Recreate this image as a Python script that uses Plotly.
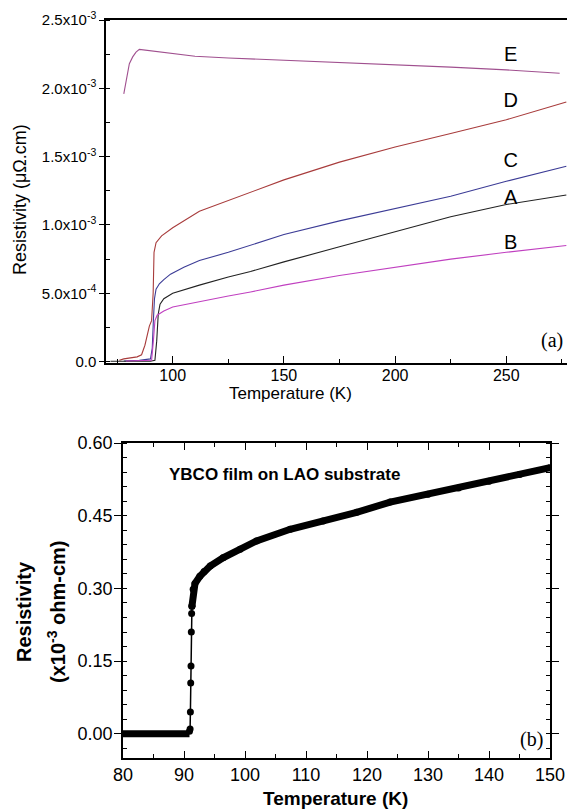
import plotly.graph_objects as go

# ---------------- Panel (a) data ----------------
E_T = [78, 78.8, 79.6, 80.5, 82, 83.5, 85, 90, 100, 110, 125, 150, 175, 200, 225, 250, 274]
E_R = [1.96e-3, 2.04e-3, 2.12e-3, 2.18e-3, 2.23e-3, 2.265e-3, 2.285e-3, 2.275e-3, 2.25e-3, 2.235e-3,
       2.222e-3, 2.205e-3, 2.19e-3, 2.175e-3, 2.155e-3, 2.135e-3, 2.11e-3]

D_T = [76, 78, 84, 86, 87.5, 88.5, 89.5, 90.5, 91.2, 91.6, 92.5, 95, 100, 112, 125, 135, 150, 175, 200, 225, 250, 277]
D_R = [0.01e-3, 0.02e-3, 0.035e-3, 0.05e-3, 0.12e-3, 0.2e-3, 0.26e-3, 0.3e-3, 0.5e-3, 0.80e-3, 0.87e-3,
       0.92e-3, 0.98e-3, 1.10e-3, 1.18e-3, 1.24e-3, 1.33e-3, 1.46e-3, 1.57e-3, 1.67e-3, 1.77e-3, 1.90e-3]

C_T = [78, 85, 90, 90.8, 91.3, 91.8, 92.5, 94, 96, 99, 105, 112, 125, 135, 150, 175, 200, 225, 250, 277]
C_R = [0.005e-3, 0.01e-3, 0.02e-3, 0.1e-3, 0.3e-3, 0.46e-3, 0.53e-3, 0.57e-3, 0.6e-3, 0.64e-3, 0.69e-3,
       0.74e-3, 0.8e-3, 0.85e-3, 0.93e-3, 1.03e-3, 1.12e-3, 1.21e-3, 1.32e-3, 1.43e-3]

A_T = [72, 80, 90, 92, 92.8, 93.5, 94.3, 96, 100, 112, 125, 135, 150, 175, 200, 225, 250, 277]
A_R = [0.003e-3, 0.003e-3, 0.003e-3, 0.01e-3, 0.15e-3, 0.35e-3, 0.42e-3, 0.46e-3, 0.5e-3, 0.56e-3,
       0.62e-3, 0.66e-3, 0.73e-3, 0.84e-3, 0.95e-3, 1.06e-3, 1.15e-3, 1.22e-3]

B_T = [79, 88, 90.5, 91.3, 92, 93, 96, 100, 112, 125, 135, 150, 175, 200, 225, 250, 277]
B_R = [0.005e-3, 0.005e-3, 0.01e-3, 0.15e-3, 0.3e-3, 0.34e-3, 0.37e-3, 0.4e-3, 0.44e-3, 0.48e-3,
       0.51e-3, 0.56e-3, 0.63e-3, 0.69e-3, 0.75e-3, 0.8e-3, 0.85e-3]

a_labels = ["E", "D", "C", "A", "B"]
a_label_T = [252, 252, 252, 252, 252]
a_label_R = [2.24e-3, 1.90e-3, 1.46e-3, 1.19e-3, 0.86e-3]

a_ytickvals = [0, 5e-4, 1e-3, 1.5e-3, 2e-3, 2.5e-3]
a_yticktext = ["0.0", "5.0x10<sup>-4</sup>", "1.0x10<sup>-3</sup>", "1.5x10<sup>-3</sup>",
               "2.0x10<sup>-3</sup>", "2.5x10<sup>-3</sup>"]

# ---------------- Panel (b) data ----------------
flat_T = [80, 82, 84, 86, 88, 90, 90.9]
flat_R = [0, 0, 0, 0, 0, 0, 0]

trans_T = [90.9, 91.0, 91.05, 91.1, 91.15, 91.2, 91.25, 91.3]
trans_R = [0.005, 0.01, 0.045, 0.105, 0.14, 0.21, 0.248, 0.263]

curve_T = [91.3, 91.5, 91.8, 92.6, 93.3, 94.3, 96.4, 99.2, 101.9, 107.4, 112.8, 118.3, 123.8, 130, 135, 140, 145, 150]
curve_R = [0.263, 0.298, 0.31, 0.325, 0.335, 0.346, 0.363, 0.381, 0.398, 0.422, 0.439, 0.457, 0.478,
           0.494, 0.507, 0.521, 0.535, 0.549]

COLORS = {"E": "#a0508f", "D": "#a83c3c", "C": "#3c3c96", "A": "#222222", "B": "#c040c0"}
SANS = "Liberation Sans, Arial, sans-serif"
SERIF = "Liberation Serif, Times New Roman, serif"

fig = go.Figure()

for name, T, R in [("E", E_T, E_R), ("D", D_T, D_R), ("C", C_T, C_R), ("A", A_T, A_R), ("B", B_T, B_R)]:
    fig.add_trace(go.Scatter(x=T, y=R, mode="lines", line=dict(color=COLORS[name], width=1.1),
                             xaxis="x", yaxis="y", showlegend=False))

fig.add_trace(go.Scatter(x=a_label_T, y=a_label_R, mode="text", text=a_labels,
                         textfont=dict(family=SANS, size=20, color="black"),
                         xaxis="x", yaxis="y", showlegend=False))

# panel (b)
fig.add_trace(go.Scatter(x=flat_T, y=flat_R, mode="lines", line=dict(color="black", width=7),
                         xaxis="x2", yaxis="y2", showlegend=False))
fig.add_trace(go.Scatter(x=trans_T, y=trans_R, mode="lines+markers", line=dict(color="black", width=1.5),
                         marker=dict(color="black", size=7), xaxis="x2", yaxis="y2", showlegend=False))
fig.add_trace(go.Scatter(x=curve_T, y=curve_R, mode="lines+markers", line=dict(color="black", width=7),
                         marker=dict(color="black", size=7), xaxis="x2", yaxis="y2", showlegend=False))

W, H = 567, 809
def px_x(p):
    return p / W
def px_y(p):
    return 1 - p / H

fig.update_layout(
    width=W, height=H,
    margin=dict(l=0, r=0, t=0, b=0),
    paper_bgcolor="white", plot_bgcolor="white",
    font=dict(family=SANS, color="black"),
    xaxis=dict(domain=[px_x(106), 1.0], range=[70, 277.3], anchor="y", automargin=False,
               showline=True, linecolor="black", linewidth=1.5, mirror=True,
               tickvals=[100, 150, 200, 250], ticks="inside", ticklen=7, tickcolor="black",
               ticklabelstandoff=-3,
               minor=dict(dtick=25, tick0=0, ticks="inside", ticklen=4, tickcolor="black"),
               showgrid=False, zeroline=False, tickfont=dict(size=16, family=SANS)),
    yaxis=dict(domain=[px_y(363), px_y(20)], range=[-0.01e-3, 2.5e-3], anchor="x", automargin=False,
               showline=True, linecolor="black", linewidth=1.5,
               tickvals=a_ytickvals, ticktext=a_yticktext, ticks="outside", ticklen=5, tickcolor="black",
               minor=dict(dtick=2.5e-4, tick0=0, ticks="inside", ticklen=4, tickcolor="black"),
               showgrid=False, zeroline=False, tickfont=dict(size=15, family=SANS)),
    xaxis2=dict(domain=[px_x(123), px_x(550)], range=[80, 150], anchor="y2", automargin=False,
                showline=True, linecolor="black", linewidth=1.5, mirror="ticks",
                dtick=10, ticks="inside", ticklen=7, tickcolor="black",
                minor=dict(dtick=5, ticks="inside", ticklen=4, tickcolor="black"),
                showgrid=False, zeroline=False, tickfont=dict(size=18, family=SANS)),
    yaxis2=dict(domain=[px_y(758), px_y(443)], range=[-0.05, 0.60], anchor="x2", automargin=False,
                showline=True, linecolor="black", linewidth=1.5, mirror="ticks",
                tickvals=[0, 0.15, 0.30, 0.45, 0.60], ticktext=["0.00", "0.15", "0.30", "0.45", "0.60"],
                ticks="outside", ticklen=7, tickcolor="black", ticklabelstandoff=-2,
                minor=dict(dtick=0.03, tick0=0, ticks="inside", ticklen=4, tickcolor="black"),
                showgrid=False, zeroline=False, tickfont=dict(size=18, family=SANS)),
)

def ann(text, x, y, size, family=SANS, angle=0, xanchor="center"):
    return dict(text=text, x=px_x(x), y=px_y(y), xref="paper", yref="paper", showarrow=False,
                xanchor=xanchor, yanchor="middle", textangle=angle, font=dict(size=size, family=family))

annotations = [
    ann("Temperature (K)", 290, 393, 17),
    ann("Resistivity (\u03bc\u03a9.cm)", 20, 200, 18, angle=-90),
    ann("(a)", 565, 340, 20, family=SERIF, xanchor="right"),
    ann("<b>YBCO film on LAO substrate</b>", 167, 475, 17, xanchor="left"),
    ann("(b)", 545, 739, 20, family=SERIF, xanchor="right"),
    ann("<b>Temperature (K)</b>", 335, 798, 19),
    ann("<b>Resistivity</b>", 24, 612, 20, angle=-90),
    ann("<b>(x10<sup>-3</sup> ohm-cm)</b>", 56, 612, 20, angle=-90),
]
fig.update_layout(annotations=annotations)

fig.write_html("out.html", config={"displayModeBar": False},
               post_script="document.body.style.margin='0';document.body.style.overflow='hidden';")
